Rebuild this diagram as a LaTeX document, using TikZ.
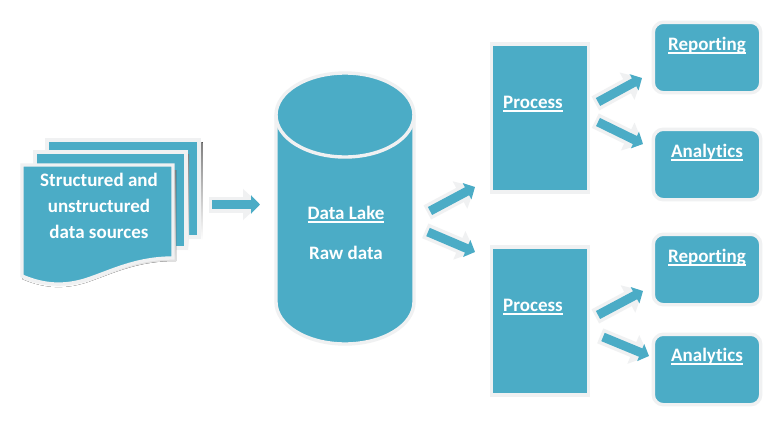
\documentclass[tikz,border=0pt]{standalone}
\usepackage{fontspec}
\setmainfont[Ligatures=CommonOff]{Carlito}
\usetikzlibrary{arrows.meta}
\definecolor{teal1}{HTML}{4BACC6}
\definecolor{halo}{HTML}{F0F1F2}
\definecolor{shade}{HTML}{D4DADD}
\newcommand\ulc[1]{\setbox0\hbox{#1}\rlap{\rule[-3.6pt]{\wd0}{1.5pt}}\box0}
\tikzset{
  shapebox/.style={fill=teal1,draw=halo,line width=3.4pt},
  lbl/.style={text=white,font=\bfseries\fontsize{19}{22}\selectfont,inner sep=0pt,anchor=base},
  proc/.style={shapebox,rectangle,minimum width=97.4,minimum height=148,inner sep=0pt},
  res/.style={shapebox,rectangle,rounded corners=10,minimum width=107.4,minimum height=70.4,inner sep=0pt},
  arrowhalo/.style={draw=halo,line width=16pt,-{Triangle[length=17pt,width=30pt]},shorten <=-3pt},
  arrowfill/.style={draw=teal1,line width=9pt,-{Triangle[length=9pt,width=18pt]}},
}
\newcommand\blockarrow[2]{%
  \draw[arrowhalo] (#1) -- (#2);
  \draw[arrowfill] (#1) -- (#2);}
\begin{document}
\begin{tikzpicture}[x=1pt,y=-1pt]
\useasboundingbox (0,0) rectangle (780,423);
\fill[white] (0,0) rectangle (780,423);

% document stack
\fill[shade] (50,142) rectangle (202.5,240);
\draw[shapebox] (47,140) rectangle (199,237);
\fill[shade] (38,154) rectangle (189,251);
\draw[shapebox] (35,152) rectangle (186,248);
\fill[shade] (172,170) -- (176,170) -- (176,261) .. controls (135,261) and (110,275) .. (85,283)
  .. controls (65,289) and (45,289) .. (22,279) -- cycle;
\draw[shapebox] (22,165) -- (173,165) -- (173,258)
  .. controls (135,258) and (110,272) .. (85,280)
  .. controls (65,286) and (45,286) .. (22,276) -- cycle;
\node[lbl] (src1) at (99,186) {Structured and};
\node[lbl] (src2) at (99,212) {unstructured};
\node[lbl] (src3) at (99,238) {data sources};

% cylinder
\draw[shapebox] (276,115) -- (276,302) arc[start angle=180,end angle=0,x radius=69,y radius=42]
  -- (414,115) arc[start angle=0,end angle=-180,x radius=69,y radius=42] -- cycle;
\draw[draw=halo,line width=3.4pt] (276,115) arc[start angle=180,end angle=0,x radius=69,y radius=42];
\node[lbl] (lake) at (346,219) {\ulc{Data Lake}};
\node[lbl] (raw) at (346,259) {Raw data};

% process boxes
\node[proc] (p1) at (540,118) {};
\node[proc] (p2) at (540,321) {};
\node[lbl] (p1t) at (533,108) {\ulc{Process}};
\node[lbl] (p2t) at (533,311) {\ulc{Process}};

% result boxes
\node[res] (r1) at (707,57.5) {};
\node[res] (a1) at (707,164.5) {};
\node[res] (r2) at (707,269.5) {};
\node[res] (a2) at (707,369.5) {};
\node[lbl] (r1t) at (707,50) {\ulc{Reporting}};
\node[lbl] (a1t) at (707,157) {\ulc{Analytics}};
\node[lbl] (r2t) at (707,262) {\ulc{Reporting}};
\node[lbl] (a2t) at (707,361) {\ulc{Analytics}};

% arrow ends
\coordinate (s0) at (212,204.5); \coordinate (e0) at (260,204.5);
\coordinate (s1) at (430,211);   \coordinate (e1) at (475,187);
\coordinate (s2) at (428,232);   \coordinate (e2) at (475,252);
\coordinate (s3) at (598,102);   \coordinate (e3) at (642,78);
\coordinate (s4) at (598,122);   \coordinate (e4) at (643,144);
\coordinate (s5) at (598,315);   \coordinate (e5) at (643,291);
\coordinate (s6) at (603,337);   \coordinate (e6) at (649,356);
\blockarrow{s0}{e0}
\blockarrow{s1}{e1}
\blockarrow{s2}{e2}
\blockarrow{s3}{e3}
\blockarrow{s4}{e4}
\blockarrow{s5}{e5}
\blockarrow{s6}{e6}
\end{tikzpicture}
\end{document}
